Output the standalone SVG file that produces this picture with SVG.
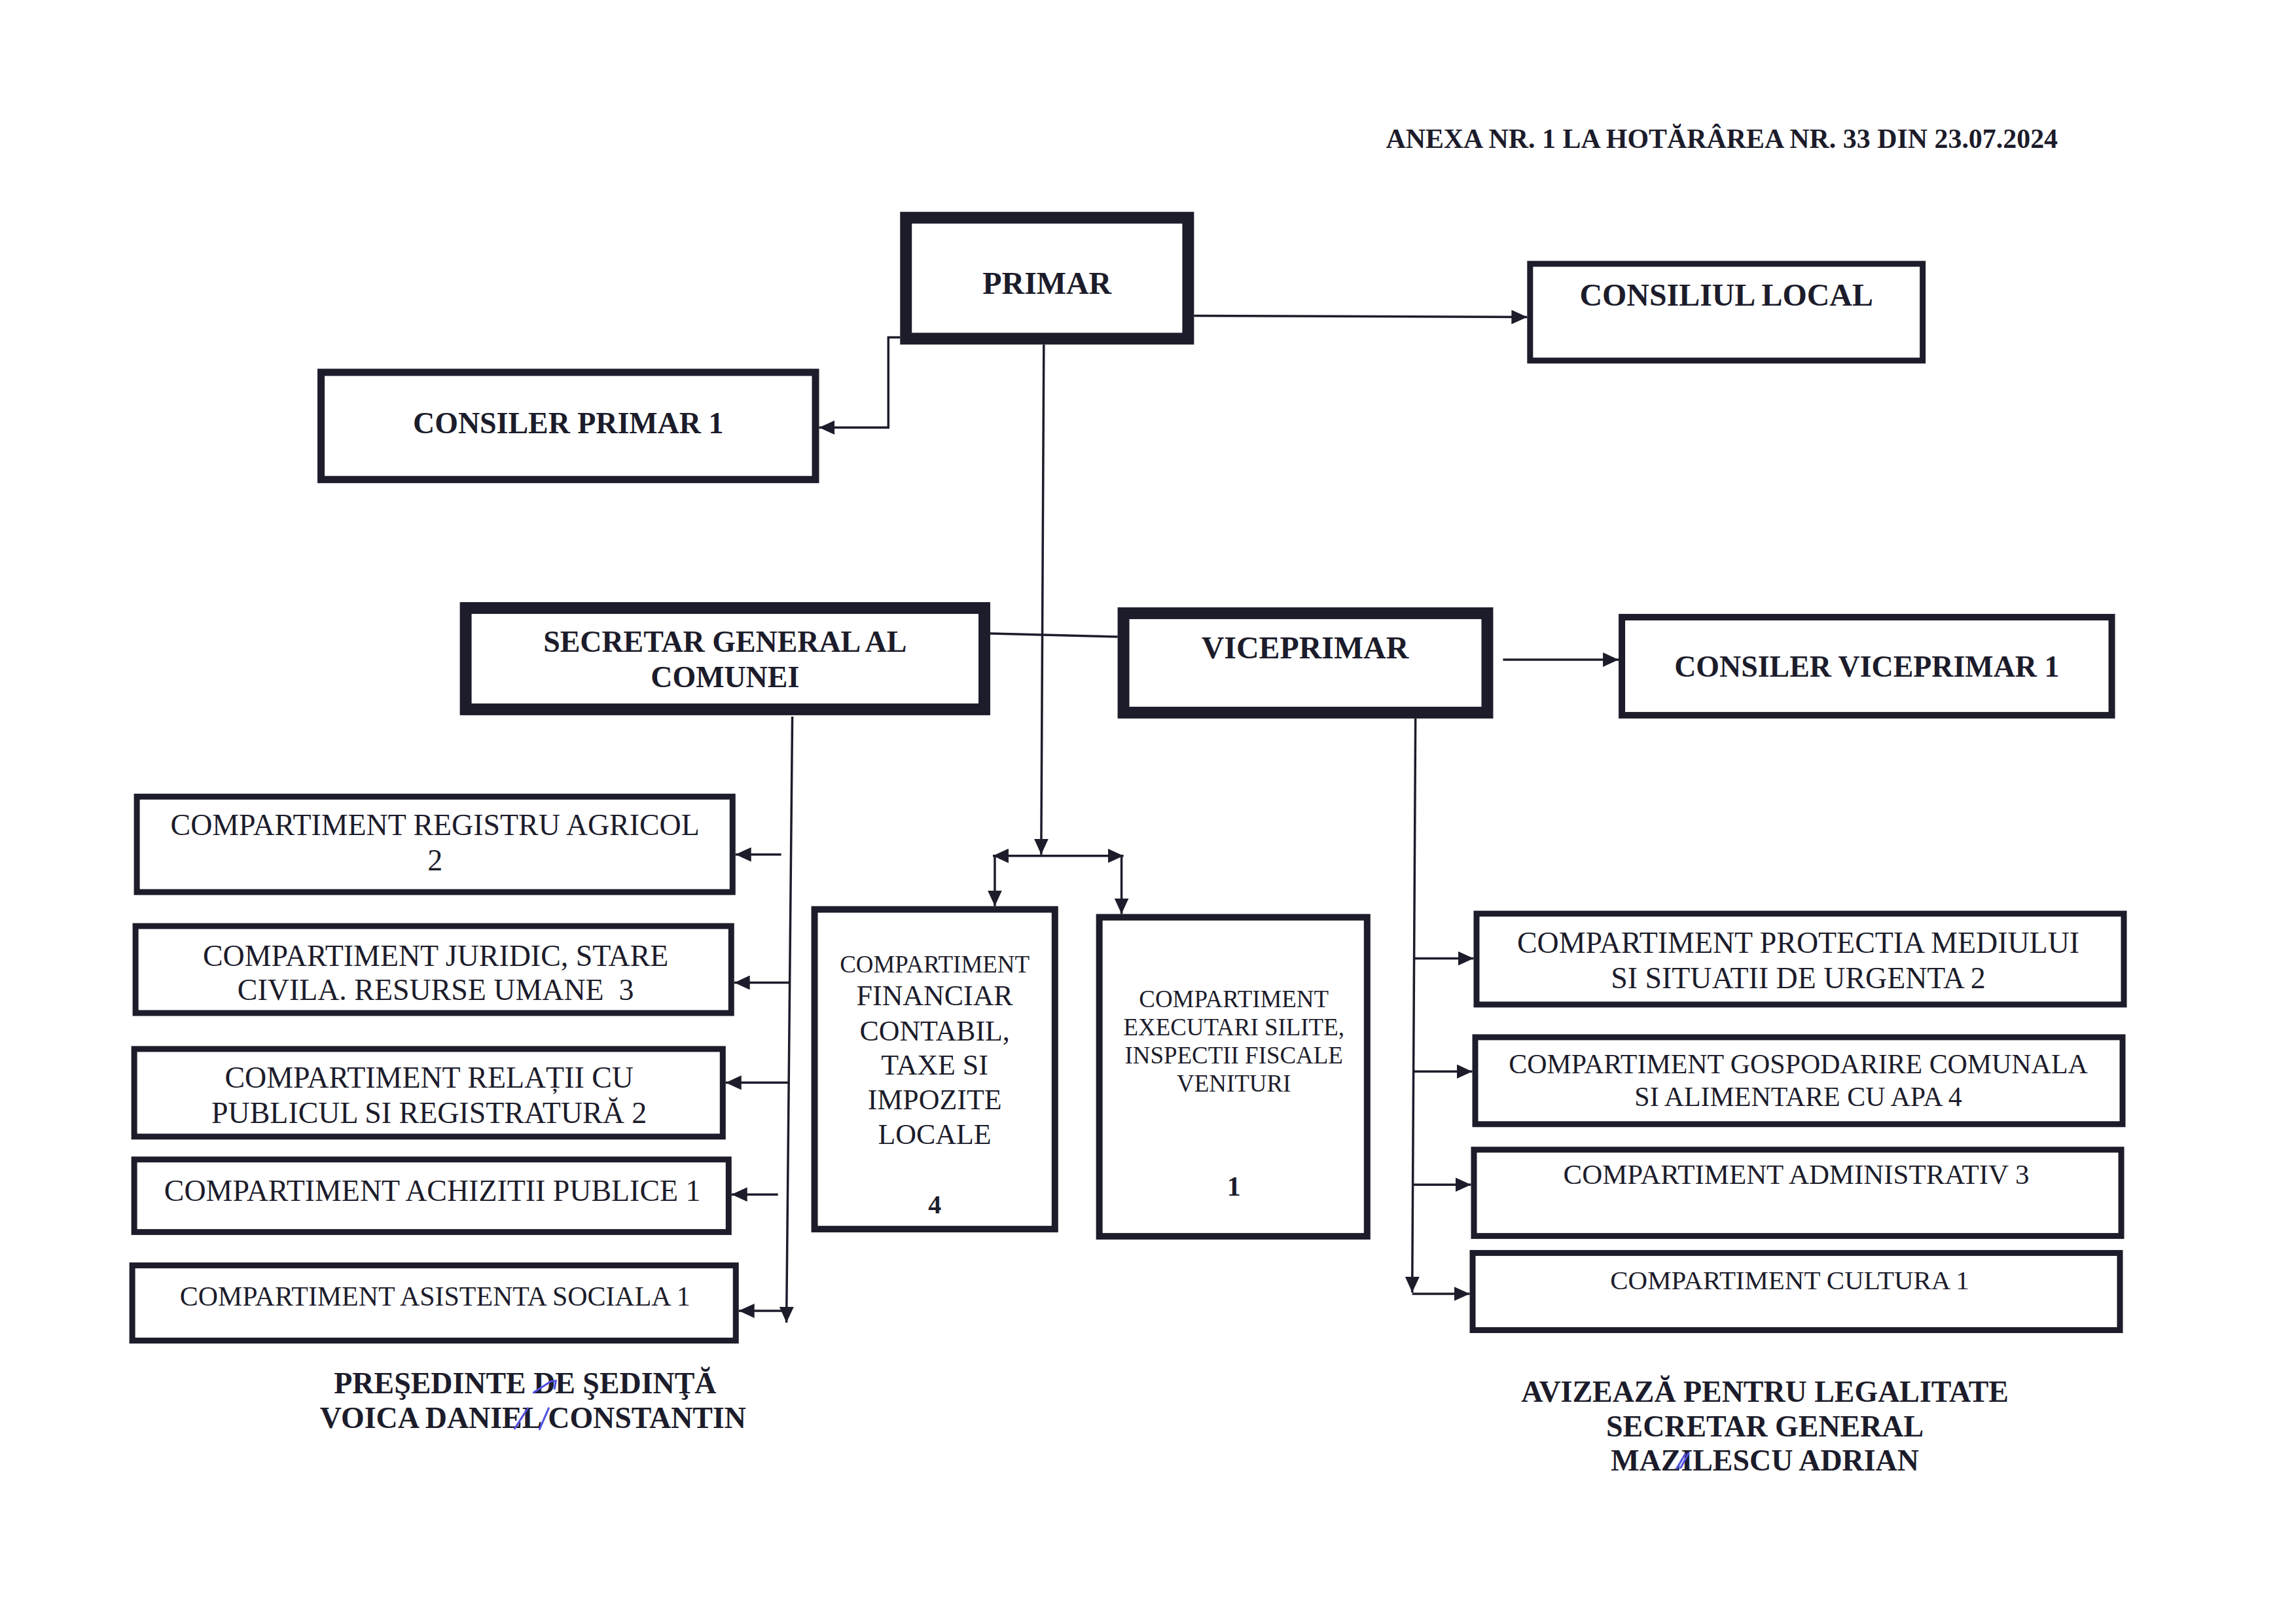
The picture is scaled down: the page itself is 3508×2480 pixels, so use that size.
<svg xmlns="http://www.w3.org/2000/svg" width="3508" height="2480" viewBox="0 0 3508 2480">
<style>
text{font-family:"Liberation Serif","Times New Roman",serif;fill:#1c1c2b;text-anchor:middle}
.b{font-weight:bold}
.thick{fill:#fff;stroke:#1c1c2b;stroke-width:18}
.box{fill:#fff;stroke:#1c1c2b;stroke-width:9}
.mid{fill:#fff;stroke:#1c1c2b;stroke-width:11}
.ln{fill:none;stroke:#1c1c2b;stroke-width:3.5}
.pen{fill:none;stroke:#5050e0;stroke-width:3;stroke-linecap:round}
</style>
<defs>
<marker id="ah" markerUnits="userSpaceOnUse" markerWidth="24" markerHeight="22" viewBox="0 0 24 22" refX="24" refY="11" orient="auto-start-reverse">
<path d="M0,0 L24,11 L0,22 z" fill="#1c1c2b"/>
</marker>
</defs>
<rect width="3508" height="2480" fill="#fff"/>
<g transform="matrix(0.998 0 0 0.999 -2 -1)">
<text class="b" x="2638" y="227" font-size="42">ANEXA NR. 1 LA HOTĂRÂREA NR. 33 DIN 23.07.2024</text>

<g id="connectors">
<line class="ln" x1="1830" y1="484" x2="2340" y2="486" marker-end="url(#ah)"/>
<path class="ln" d="M1380 517 H1362 V655 H1256" marker-end="url(#ah)"/>
<path class="ln" d="M1600 528 L1596 1308" marker-end="url(#ah)"/>
<path class="ln" d="M1522 1310 H1722" marker-start="url(#ah)" marker-end="url(#ah)"/>
<path class="ln" d="M1525 1310 V1387" marker-end="url(#ah)"/>
<path class="ln" d="M1719 1310 V1399" marker-end="url(#ah)"/>
<path class="ln" d="M1518 970 L1713 975"/>
<path class="ln" d="M2303 1010 H2480" marker-end="url(#ah)"/>
<path class="ln" d="M2169 1100 L2164 1978" marker-end="url(#ah)"/>
<path class="ln" d="M2167 1467 H2258" marker-end="url(#ah)"/>
<path class="ln" d="M2166 1640 H2256" marker-end="url(#ah)"/>
<path class="ln" d="M2165 1813 H2254" marker-end="url(#ah)"/>
<path class="ln" d="M2164 1980 H2252" marker-end="url(#ah)"/>
<path class="ln" d="M1215 1097 L1206 2024" marker-end="url(#ah)"/>
<path class="ln" d="M1198 1308 H1128" marker-end="url(#ah)"/>
<path class="ln" d="M1212 1504 H1126" marker-end="url(#ah)"/>
<path class="ln" d="M1210 1657 H1113" marker-end="url(#ah)"/>
<path class="ln" d="M1193 1828 H1122" marker-end="url(#ah)"/>
<path class="ln" d="M1207 2006 H1133" marker-end="url(#ah)"/>
</g>

<g id="primar">
<rect class="thick" x="1389" y="334" width="432" height="185"/>
<text class="b" x="1605" y="450" font-size="48">PRIMAR</text>
</g>
<g id="consiliul-local">
<rect class="box" x="2344.5" y="404.5" width="601" height="148"/>
<text class="b" x="2645" y="468" font-size="48">CONSILIUL LOCAL</text>
</g>
<g id="consiler-primar">
<rect class="mid" x="493.5" y="570.5" width="757" height="164"/>
<text class="b" x="872" y="664" font-size="46">CONSILER PRIMAR 1</text>
</g>
<g id="secretar">
<rect class="thick" x="715" y="931" width="794" height="155"/>
<text class="b" x="1112" y="998" font-size="46">SECRETAR GENERAL AL</text>
<text class="b" x="1112" y="1052" font-size="46">COMUNEI</text>
</g>
<g id="viceprimar">
<rect class="thick" x="1722" y="939" width="557" height="152"/>
<text class="b" x="2000" y="1008" font-size="48">VICEPRIMAR</text>
</g>
<g id="consiler-viceprimar">
<rect class="box" x="2485" y="945" width="750" height="150" style="stroke-width:10"/>
<text class="b" x="2860" y="1036" font-size="46">CONSILER VICEPRIMAR 1</text>
</g>

<g id="registru">
<rect class="box" x="211.5" y="1219.5" width="912" height="146"/>
<text x="668" y="1278" font-size="46">COMPARTIMENT REGISTRU AGRICOL</text>
<text x="668" y="1332" font-size="46">2</text>
</g>
<g id="juridic">
<rect class="box" x="209.5" y="1417.5" width="912" height="133"/>
<text x="669" y="1478" font-size="46">COMPARTIMENT JURIDIC, STARE</text>
<text x="669" y="1531" font-size="46" xml:space="preserve">CIVILA. RESURSE UMANE  3</text>
</g>
<g id="relatii">
<rect class="box" x="207.5" y="1605.5" width="901" height="134"/>
<text x="659" y="1665" font-size="46">COMPARTIMENT RELAȚII CU</text>
<text x="659" y="1719" font-size="46">PUBLICUL SI REGISTRATURĂ 2</text>
</g>
<g id="achizitii">
<rect class="box" x="207.5" y="1774.5" width="910" height="111"/>
<text x="664" y="1838" font-size="46">COMPARTIMENT ACHIZITII PUBLICE 1</text>
</g>
<g id="asistenta">
<rect class="box" x="204.5" y="1936.5" width="924" height="115"/>
<text x="668" y="1998" font-size="42">COMPARTIMENT ASISTENTA SOCIALA 1</text>
</g>

<g id="financiar">
<rect class="box" x="1249" y="1392" width="368" height="489" style="stroke-width:10"/>
<text x="1433" y="1488" font-size="37">COMPARTIMENT</text>
<text x="1433" y="1539" font-size="44">FINANCIAR</text>
<text x="1433" y="1593" font-size="44">CONTABIL,</text>
<text x="1433" y="1645" font-size="44">TAXE SI</text>
<text x="1433" y="1698" font-size="44">IMPOZITE</text>
<text x="1433" y="1751" font-size="44">LOCALE</text>
<text class="b" x="1433" y="1857" font-size="40">4</text>
</g>
<g id="executari">
<rect class="box" x="1685" y="1404" width="410" height="488" style="stroke-width:10"/>
<text x="1891" y="1542" font-size="37">COMPARTIMENT</text>
<text x="1891" y="1585" font-size="37">EXECUTARI SILITE,</text>
<text x="1891" y="1628" font-size="37">INSPECTII FISCALE</text>
<text x="1891" y="1671" font-size="37">VENITURI</text>
<text class="b" x="1891" y="1830" font-size="42">1</text>
</g>

<g id="protectia">
<rect class="box" x="2262.5" y="1398.5" width="991" height="139"/>
<text x="2755" y="1458" font-size="46">COMPARTIMENT PROTECTIA MEDIULUI</text>
<text x="2755" y="1513" font-size="46">SI SITUATII DE URGENTA 2</text>
</g>
<g id="gospodarire">
<rect class="box" x="2260.5" y="1587.5" width="991" height="133"/>
<text x="2755" y="1643" font-size="42">COMPARTIMENT GOSPODARIRE COMUNALA</text>
<text x="2755" y="1693" font-size="42">SI ALIMENTARE CU APA 4</text>
</g>
<g id="administrativ">
<rect class="box" x="2258.5" y="1759.5" width="991" height="132"/>
<text x="2752" y="1812" font-size="43">COMPARTIMENT ADMINISTRATIV 3</text>
</g>
<g id="cultura">
<rect class="box" x="2256.5" y="1917.5" width="991" height="118"/>
<text x="2742" y="1973" font-size="41">COMPARTIMENT CULTURA 1</text>
</g>

<g id="semnatura-presedinte">
<text class="b" x="806" y="2132" font-size="46">PREŞEDINTE DE ŞEDINŢĂ</text>
<text class="b" x="818" y="2185" font-size="46">VOICA DANIEL CONSTANTIN</text>
<path class="pen" d="M819 2131 L845 2114 L853 2113 L851 2125"/>
<path class="pen" d="M790 2186 L810 2155 M828 2187 L842 2155"/>
</g>
<g id="semnatura-secretar">
<text class="b" x="2704" y="2145" font-size="46">AVIZEAZĂ PENTRU LEGALITATE</text>
<text class="b" x="2704" y="2198" font-size="46">SECRETAR GENERAL</text>
<text class="b" x="2704" y="2250" font-size="46">MAZILESCU ADRIAN</text>
<path class="pen" d="M2569 2247 L2582 2225 M2575 2246 L2587 2224"/>
</g>
</g>
</svg>
